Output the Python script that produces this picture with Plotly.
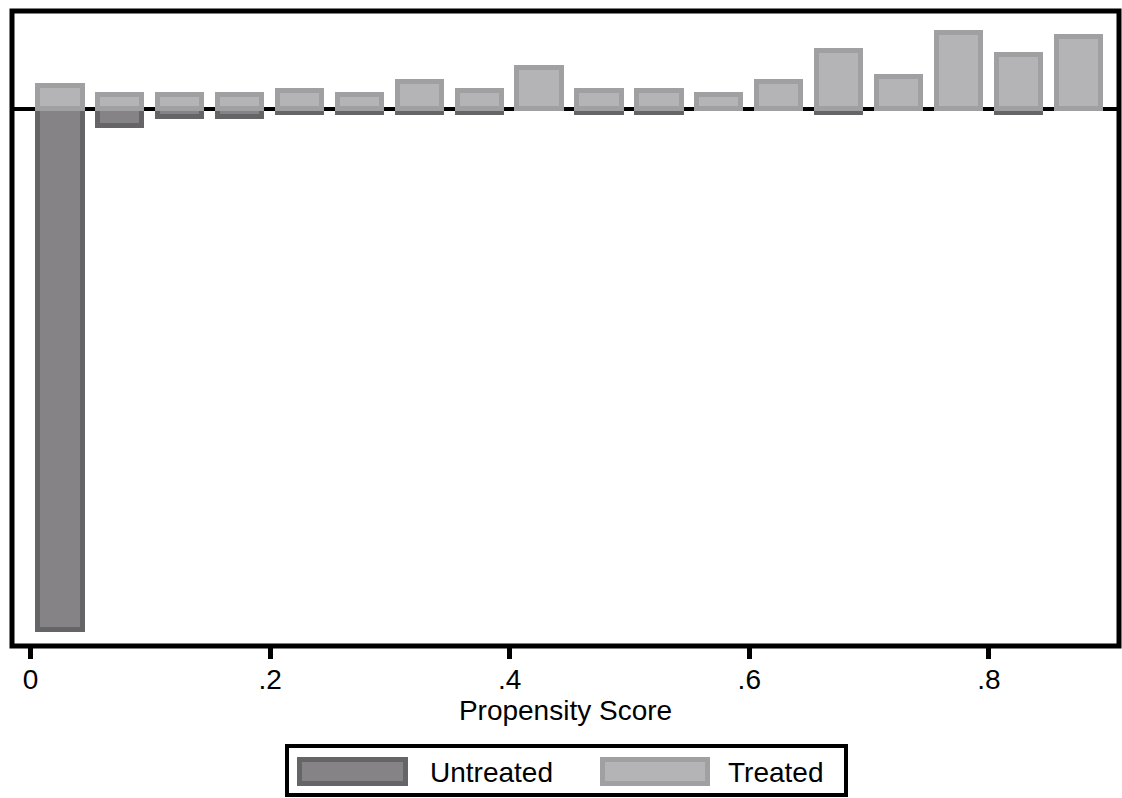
import plotly.graph_objects as go

# Propensity score bins (bin centres, width 0.05)
bin_centers = [0.025, 0.075, 0.125, 0.175, 0.225, 0.275, 0.325, 0.375, 0.425,
               0.475, 0.525, 0.575, 0.625, 0.675, 0.725, 0.775, 0.825, 0.875]

# Observation counts per bin
treated_counts = [5, 3, 3, 3, 4, 3, 6, 4, 9, 4, 4, 3, 6, 13, 7, 17, 12, 16]
untreated_counts = [117, 4, 2, 2, 1, 1, 1, 1, 0, 1, 1, 0, 0, 1, 0, 0, 1, 0]

tick_values = [0, 0.2, 0.4, 0.6, 0.8]
tick_labels = ["0", ".2", ".4", ".6", ".8"]

series_names = ["Untreated", "Treated"]

UNTREATED_FILL = "#858386"
UNTREATED_LINE = "#656466"
TREATED_FILL = "#b4b3b6"
TREATED_LINE = "#a09fa2"
FONT = "Liberation Sans"

W, H = 1122, 798
PLOT_L, PLOT_R, PLOT_T, PLOT_B = 12, 1119, 11, 646


def px(x):
    return (x - PLOT_L) / (PLOT_R - PLOT_L)


def py(y):
    return (PLOT_B - y) / (PLOT_B - PLOT_T)


fig = go.Figure()

# Untreated mirrored below the zero line
fig.add_trace(go.Bar(
    x=bin_centers,
    y=[-v for v in untreated_counts],
    width=0.037,
    name=series_names[0],
    marker=dict(color=UNTREATED_FILL, line=dict(color=UNTREATED_LINE, width=5)),
    customdata=untreated_counts,
    hovertemplate="%{x}<br>%{customdata}<extra>Untreated</extra>",
))

# Treated above the zero line
fig.add_trace(go.Bar(
    x=bin_centers,
    y=treated_counts,
    width=0.037,
    name=series_names[1],
    marker=dict(color=TREATED_FILL, line=dict(color=TREATED_LINE, width=5)),
    hovertemplate="%{x}<br>%{y}<extra>Treated</extra>",
))

shapes = [
    # plot region frame
    dict(type="rect", xref="paper", yref="paper", x0=0, x1=1, y0=0, y1=1,
         line=dict(color="black", width=5), layer="above"),
    # legend box
    dict(type="rect", xref="paper", yref="paper",
         x0=px(287), x1=px(846), y0=py(746), y1=py(795),
         line=dict(color="black", width=4), fillcolor="white"),
    # legend swatches
    dict(type="rect", xref="paper", yref="paper",
         x0=px(299.5), x1=px(405.5), y0=py(759.5), y1=py(783.5),
         line=dict(color=UNTREATED_LINE, width=5), fillcolor=UNTREATED_FILL),
    dict(type="rect", xref="paper", yref="paper",
         x0=px(602.5), x1=px(707.5), y0=py(759.5), y1=py(783.5),
         line=dict(color=TREATED_LINE, width=5), fillcolor=TREATED_FILL),
]

annotations = [
    dict(text=series_names[0], xref="paper", yref="paper", x=px(428), y=py(772),
         xanchor="left", yanchor="middle", showarrow=False,
         font=dict(family=FONT, size=28, color="black")),
    dict(text=series_names[1], xref="paper", yref="paper", x=px(726), y=py(772),
         xanchor="left", yanchor="middle", showarrow=False,
         font=dict(family=FONT, size=28, color="black")),
]

fig.update_layout(
    width=W, height=H, autosize=False,
    margin=dict(l=PLOT_L, r=W - PLOT_R, t=PLOT_T, b=H - PLOT_B),
    paper_bgcolor="white", plot_bgcolor="white",
    barmode="overlay",
    bargap=0,
    showlegend=False,
    shapes=shapes,
    annotations=annotations,
    font=dict(family=FONT, color="black"),
    xaxis=dict(
        range=[-0.0154, 0.9086],
        tickvals=tick_values, ticktext=tick_labels,
        ticks="outside", ticklen=12, tickwidth=5, tickcolor="black",
        ticklabelstandoff=-4,
        tickfont=dict(family=FONT, size=28, color="black"),
        showgrid=False, zeroline=False, showline=False,
        title=dict(text="Propensity Score", font=dict(family=FONT, size=28, color="black"),
                   standoff=0),
    ),
    yaxis=dict(
        range=[-120.7, 21.9],
        showticklabels=False, ticks="", showgrid=False,
        zeroline=True, zerolinecolor="black", zerolinewidth=4,
        showline=False,
    ),
)

fig.write_html("out.html")
